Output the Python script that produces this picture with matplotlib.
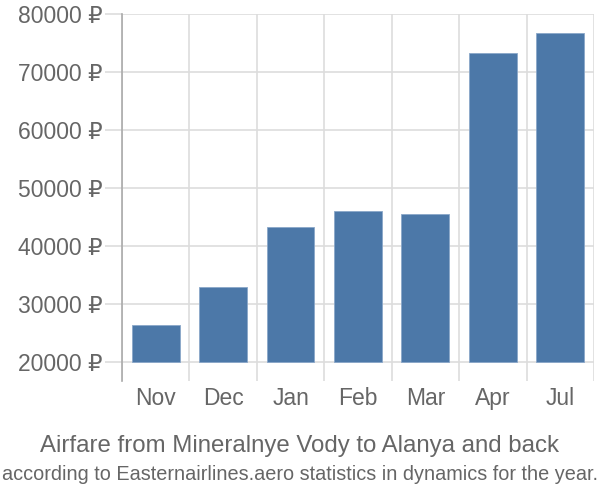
import matplotlib.pyplot as plt

months = ["Nov", "Dec", "Jan", "Feb", "Mar", "Apr", "Jul"]
prices = [26400, 33000, 43300, 46100, 45500, 73200, 76800]
y_ticks = [20000, 30000, 40000, 50000, 60000, 70000, 80000]

title = "Airfare from Mineralnye Vody to Alanya and back"
subtitle = "according to Easternairlines.aero statistics in dynamics for the year."

plt.rcParams['font.family'] = ['Liberation Sans', 'DejaVu Sans']

fig = plt.figure(figsize=(6, 5), dpi=100)
ax = fig.add_axes([0.2033, 0.238, 0.7867, 0.734])

x = list(range(len(months)))
ax.bar(x, [p - 20000 for p in prices], bottom=20000, width=0.71,
       color="#4c78a8", edgecolor="#8aa7c9", linewidth=0.6, zorder=3)

ax.set_xlim(-0.5, len(months) - 0.5)
ax.set_ylim(16724, 80000)

ax.set_yticks(y_ticks)
ax.set_yticklabels([f"{v} ₽" for v in y_ticks])
ax.set_xticks(x)
ax.set_xticklabels(months)
ax.set_xticks([i - 0.5 for i in range(len(months) + 1)], minor=True)

ax.grid(axis="y", which="major", color="#dddddd", linewidth=1.2, zorder=0)
ax.grid(axis="x", which="minor", color="#dddddd", linewidth=1.2, zorder=0)

ax.tick_params(axis="y", length=12, color="#dddddd", width=1.2,
               labelsize=16.5, labelcolor="#666666", pad=2)
ax.tick_params(axis="x", which="major", length=0, labelsize=16.5,
               labelcolor="#666666", pad=4)
ax.tick_params(axis="x", which="minor", length=0)

for side in ["top", "right", "bottom"]:
    ax.spines[side].set_visible(False)
ax.spines["left"].set_color("#aaaaaa")
ax.spines["left"].set_linewidth(1.2)

fig.text(0.5, 0.108, title, ha="center", va="center", fontsize=17.3, color="#666666")
fig.text(0.5, 0.05, subtitle, ha="center", va="center", fontsize=14.3, color="#666666")

fig.savefig("out.png", dpi=100)
